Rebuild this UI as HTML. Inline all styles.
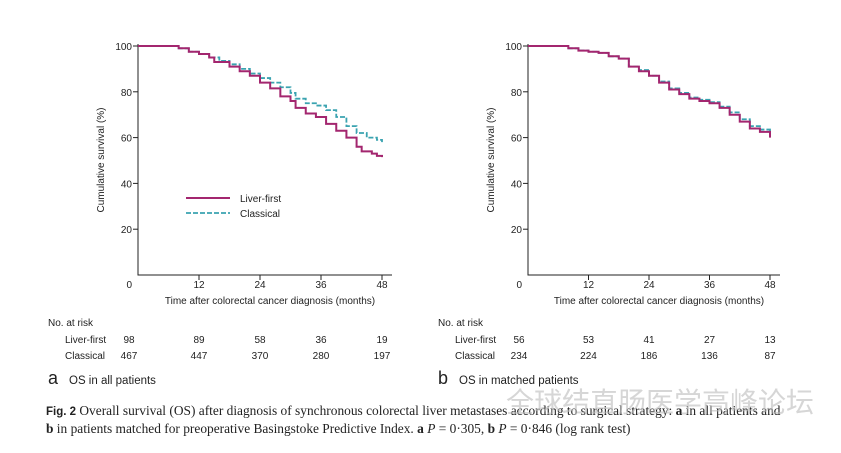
<!DOCTYPE html>
<html><head><meta charset="utf-8"><style>
body{margin:0;background:#fff;width:841px;height:448px;overflow:hidden}
svg text{font-family:"Liberation Sans",sans-serif;fill:#222}
</style></head><body>
<svg id="s" width="841" height="448">
<text x="46" y="415" style="font-family:'Liberation Serif',serif;font-size:13.4px"><tspan font-weight="bold" font-family="Liberation Sans" font-size="11.5">Fig. 2</tspan> Overall survival (OS) after diagnosis of synchronous colorectal liver metastases according to surgical strategy: <tspan font-weight="bold">a</tspan> in all patients and</text>
<text x="46" y="433" style="font-family:'Liberation Serif',serif;font-size:13.4px"><tspan font-weight="bold">b</tspan> in patients matched for preoperative Basingstoke Predictive Index. <tspan font-weight="bold">a</tspan> <tspan font-style="italic">P</tspan> = 0·305, <tspan font-weight="bold">b</tspan> <tspan font-style="italic">P</tspan> = 0·846 (log rank test)</text>
<text x="506" y="412" style="font-family:'Liberation Sans','Noto Sans CJK SC',sans-serif;font-size:28px;fill:#bbb;opacity:.6">全球结直肠医学高峰论坛</text>
</svg>
<script>
const months=[0,12,24,36,48];
const yTicks=[0,20,40,60,80,100];
// panel a
const aLiverT=[0,6,8,10,12,14,15,18,20,22,24,26,28,30,31,33,35,37,39,41,43,44,46,47,48];
const aLiverS=[100,100,99,97.5,96.5,95,93,91,89,87,84,81.5,78,76,73,70.5,69,66,63,60,56,54,53,52,51.5];
const aClassT=[0,6,8,10,12,14,16,18,20,22,24,26,28,30,31,33,35,37,39,41,43,45,47,48];
const aClassS=[100,100,99,97.5,96.5,95,93.5,92,90,88,86,84,82,79.5,77,75,74,72,69,65,62,60,59,58];
const aRiskLiver=[98,89,58,36,19];
const aRiskClass=[467,447,370,280,197];
// panel b
const bLiverT=[0,5,8,10,12,14,16,18,20,22,24,26,28,30,32,34,36,38,40,42,44,46,48];
const bLiverS=[100,100,99,98,97.5,97,95.5,94.5,91,89,87,84,81,79,77,76,75,73,70,67,64,62.5,60];
const bClassT=[0,5,8,10,12,14,16,18,20,22,24,26,28,30,32,34,36,38,40,42,44,46,48];
const bClassS=[100,100,99,98,97.5,97,95.5,94.5,91,89.5,87,84.5,81.5,79.5,77.5,76.5,75.5,73.5,71,68,65,63.5,61];
const bRiskLiver=[56,53,41,27,13];
const bRiskClass=[234,224,186,136,87];

const NS='http://www.w3.org/2000/svg',svg=document.getElementById('s');
function el(t,a,p){const e=document.createElementNS(NS,t);for(const k in a)e.setAttribute(k,a[k]);(p||svg).appendChild(e);return e;}
function txt(x,y,s,anchor,size,p){const e=el('text',{x:x,y:y,'text-anchor':anchor||'start','font-size':size||10},p);e.textContent=s;return e;}
function step(T,S,xf,yf){let d='M'+xf(T[0])+','+yf(S[0]);for(let i=1;i<T.length;i++){d+='H'+xf(T[i])+'V'+yf(S[i]);}return d;}
function panel(ox,x48,letter,title,LT,LS,CT,CS,RL,RC,legend){
  const g=el('g',{});
  
  
  const xf=m=>ox+(x48-ox)*m/48, yf=v=>275-v*2.29;
  const ax=el('path',{d:`M${ox},44V275H${x48+10}`,stroke:'#222','stroke-width':1,fill:'none'},g);
  
  
  yTicks.forEach(v=>{ if(v>0){el('line',{x1:ox-5,x2:ox,y1:yf(v),y2:yf(v),stroke:'#222'},g);}
    const t=txt(ox-6,yf(v)+4,String(v),'end',10,g); if(v===0){t.setAttribute('x',ox-6);t.setAttribute('y',288);}
    
    });
  months.forEach(m=>{ if(m>0){el('line',{x1:xf(m),x2:xf(m),y1:275,y2:280,stroke:'#222'},g);
    const t=txt(xf(m),288,String(m),'middle',10,g);
    
    }});
  const xt=txt((ox+x48)/2+10,304,'Time after colorectal cancer diagnosis (months)','middle',10,g);
  
  
  const yt=txt(0,0,'Cumulative survival (%)','middle',10,g);
  yt.setAttribute('transform',`translate(${ox-34},160) rotate(-90)`);
  
  
  const c=el('path',{d:step(CT,CS,xf,yf),stroke:'#3aa3b0','stroke-width':1.8,fill:'none','stroke-dasharray':'5,2'},g);
  
  
  const l=el('path',{d:step(LT,LS,xf,yf),stroke:'#a3266f','stroke-width':2,fill:'none'},g);
  
  
  if(legend){
    const lg=el('g',{},g);
    
    
    el('line',{x1:186,x2:230,y1:198,y2:198,stroke:'#a3266f','stroke-width':2},lg);
    el('line',{x1:186,x2:230,y1:213,y2:213,stroke:'#3aa3b0','stroke-width':1.8,'stroke-dasharray':'5,2'},lg);
    txt(240,202,'Liver-first','start',10,lg);txt(240,217,'Classical','start',10,lg);
  }
  const tb=el('g',{},g);
  
  
  txt(ox-90,326,'No. at risk','start',10,tb);
  txt(ox-73,343,'Liver-first','start',10,tb);
  txt(ox-73,359,'Classical','start',10,tb);
  months.forEach((m,i)=>{txt(xf(m)-(i==0?9:0),343,String(RL[i]),'middle',10,tb);txt(xf(m)-(i==0?9:0),359,String(RC[i]),'middle',10,tb);});
  const lt=txt(ox-90,384,letter,'start',18,g);
  
  
  const tt=txt(ox-69,384,title,'start',11.5,g);
  
  
}
panel(138,382,'a','OS in all patients',aLiverT,aLiverS,aClassT,aClassS,aRiskLiver,aRiskClass,true);
panel(528,770,'b','OS in matched patients',bLiverT,bLiverS,bClassT,bClassS,bRiskLiver,bRiskClass,false);
</script>
</body></html>
